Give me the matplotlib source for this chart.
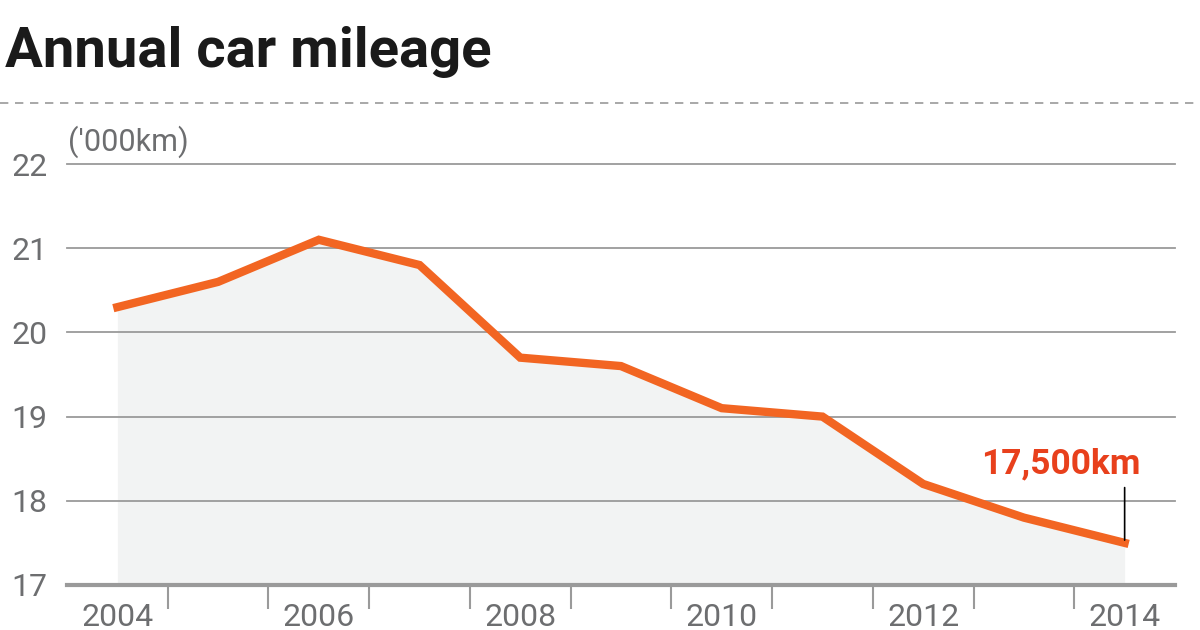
import matplotlib
matplotlib.use('Agg')
import matplotlib.pyplot as plt
from matplotlib import font_manager as fm
from matplotlib.lines import Line2D

# Data

years = [2004, 2005, 2006, 2007, 2008, 2009, 2010, 2011, 2012, 2013, 2014]
mileage = [20.3, 20.6, 21.1, 20.8, 19.7, 19.6, 19.1, 19.0, 18.2, 17.8, 17.5]
year_labels = ['2004', '2006', '2008', '2010', '2012', '2014']
y_ticks = [17, 18, 19, 20, 21, 22]
last_label = '17,500km'

# Fonts

names = {f.name for f in fm.fontManager.ttflist}
narrow = 'Liberation Sans Narrow' if 'Liberation Sans Narrow' in names else 'Roboto'
bold = 'Roboto' if 'Roboto' in names else 'DejaVu Sans'

grey = '#6d6e70'
orange = '#f26522'

# Graph

fig = plt.figure(figsize=(12, 6.3), dpi=100)
ax = fig.add_axes([67 / 1200, 1 - 585 / 630, (1175 - 67) / 1200, (585 - 164) / 630])

ax.fill_between(years, mileage, 17, color='#f2f3f3', lw=0, zorder=1)
ax.plot(years, mileage, color=orange, lw=6, solid_joinstyle='miter', zorder=3)

ax.set_xlim(2003.5, 2014.5)
ax.set_ylim(17, 22)

ax.set_yticks(y_ticks)
ax.set_yticklabels([str(v) for v in y_ticks])
ax.set_xticks([int(s) for s in year_labels])
ax.set_xticklabels(year_labels)
ax.set_xticks([y + 0.5 for y in years[:-1]], minor=True)

ax.tick_params(axis='y', length=0, pad=14, labelsize=23, labelcolor=grey)
ax.tick_params(axis='x', which='major', length=0, pad=13, labelsize=23, labelcolor=grey)
ax.tick_params(axis='x', which='minor', length=17, width=1.5, color='#9a9a9a')
for lab in ax.get_xticklabels() + ax.get_yticklabels():
    lab.set_family(narrow)

for v in y_ticks[1:]:
    ax.axhline(v, color='#9a9a9a', lw=1.3, zorder=2, clip_on=False)
ax.axhline(17, color='#9a9a9a', lw=3, zorder=2, clip_on=False)

for s in ax.spines.values():
    s.set_visible(False)

# Annotation

ax.annotate('', xy=(years[-1], mileage[-1]), xytext=(years[-1], 18.19),
            arrowprops=dict(arrowstyle='-', color='black', lw=1.2), zorder=4)
ax.text(2013.37, 18.33, last_label, color='#e8401c', fontsize=25.5,
        fontweight='bold', family=bold, ha='center', va='baseline')

# Header

fig.text(5 / 1200, 1 - 67 / 630, 'Annual car mileage', fontsize=40.5, fontweight='bold',
         family=bold, color='#1a1a1a', ha='left', va='baseline')
fig.add_artist(Line2D([0, 1], [1 - 103 / 630] * 2, color='#9a9a9a', lw=1.2,
                      ls=(0, (5, 4)), transform=fig.transFigure))
fig.text(68 / 1200, 1 - 151 / 630, "('000km)", fontsize=22, family=narrow,
         color=grey, ha='left', va='baseline')

fig.savefig('out.png', dpi=100)
